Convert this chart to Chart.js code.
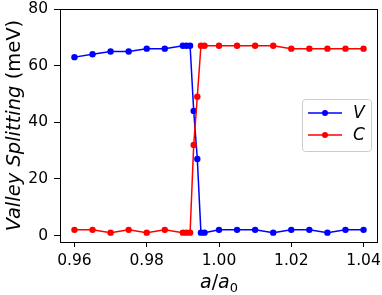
<!DOCTYPE html>
<html>
<head>
<meta charset="utf-8">
<script src="https://cdn.jsdelivr.net/npm/chart.js@4/dist/chart.umd.min.js"></script>
<style>
  body { margin: 0; background: #fff; }
  #wrap { width: 382px; height: 295px; }
</style>
</head>
<body>
<div id="wrap"><canvas id="myChart" width="382" height="295"></canvas></div>
<script>
const ratios = [0.96, 0.965, 0.97, 0.975, 0.98, 0.985, 0.99, 0.991, 0.992, 0.993, 0.994,
                0.995, 0.996, 1.0, 1.005, 1.01, 1.015, 1.02, 1.025, 1.03, 1.035, 1.04];
const splitV = [63, 64, 65, 65, 66, 66, 67, 67, 67, 44, 27, 1, 1, 2, 2, 2, 1, 2, 2, 1, 2, 2];
const splitC = [2, 2, 1, 2, 1, 2, 1, 1, 1, 32, 49, 67, 67, 67, 67, 67, 67, 66, 66, 66, 66, 66];
const xTicks = [0.96, 0.98, 1.00, 1.02, 1.04];
const yTicks = [0, 20, 40, 60, 80];

const FONT = "'DejaVu Sans', sans-serif";

function toPoints(ys) {
    return ratios.map((x, i) => ({ x: x, y: ys[i] }));
}

// frame, axis labels with mixed styles, legend box
const decorations = {
    id: 'decorations',
    afterDraw(chart) {
        const c = chart.ctx;
        const a = chart.chartArea;
        c.save();
        c.strokeStyle = '#000';
        c.lineWidth = 1;
        c.strokeRect(a.left + 0.5, a.top + 0.5, a.right - a.left - 1, a.bottom - a.top);

        // x label: a/a0
        c.fillStyle = '#000';
        c.textBaseline = 'alphabetic';
        c.textAlign = 'left';
        const it = "italic 19px " + FONT;
        const rm = "19px " + FONT;
        const sub = "13px " + FONT;
        const parts = [[it, 'a', 0], [rm, '/', 0], [it, 'a', 0], [sub, '0', 4]];
        let w = 0;
        parts.forEach(p => { c.font = p[0]; w += c.measureText(p[1]).width; });
        let x = (a.left + a.right) / 2 - w / 2;
        const by = 288;
        parts.forEach(p => {
            c.font = p[0];
            c.fillText(p[1], x, by + p[2]);
            x += c.measureText(p[1]).width;
        });

        // y label
        c.save();
        c.translate(19.5, (a.top + a.bottom) / 2);
        c.rotate(-Math.PI / 2);
        const yparts = [["italic 19.5px " + FONT, 'Valley Splitting'], ["19.5px " + FONT, ' (meV)']];
        let yw = 0;
        yparts.forEach(p => { c.font = p[0]; yw += c.measureText(p[1]).width; });
        let yx = -yw / 2;
        yparts.forEach(p => {
            c.font = p[0];
            c.fillText(p[1], yx, 0);
            yx += c.measureText(p[1]).width;
        });
        c.restore();

        // legend
        const lx = 302, ly = 99, lw = 69, lh = 52;
        c.beginPath();
        c.roundRect(lx + 0.5, ly + 0.5, lw, lh, 3);
        c.fillStyle = 'rgba(255,255,255,0.8)';
        c.fill();
        c.strokeStyle = '#cccccc';
        c.lineWidth = 1;
        c.stroke();
        const entries = [['V', '#0000ff', 113], ['C', '#ff0000', 135]];
        entries.forEach(e => {
            c.strokeStyle = e[1];
            c.fillStyle = e[1];
            c.lineWidth = 1.5;
            c.beginPath();
            c.moveTo(308, e[2]);
            c.lineTo(342, e[2]);
            c.stroke();
            c.beginPath();
            c.arc(325, e[2], 3, 0, Math.PI * 2);
            c.fill();
            c.fillStyle = '#000';
            c.font = "italic 17px " + FONT;
            c.textBaseline = 'middle';
            c.fillText(e[0], 353, e[2] + 1);
        });
        c.restore();
    }
};

const ctx = document.getElementById('myChart').getContext('2d');
const myChart = new Chart(ctx, {
    type: 'line',
    data: {
        datasets: [{
            label: 'V',
            data: toPoints(splitV),
            borderColor: '#0000ff',
            backgroundColor: '#0000ff',
            borderWidth: 1.5,
            pointRadius: 3.2,
            pointBorderWidth: 0,
            order: 1
        }, {
            label: 'C',
            data: toPoints(splitC),
            borderColor: '#ff0000',
            backgroundColor: '#ff0000',
            borderWidth: 1.5,
            pointRadius: 3.2,
            pointBorderWidth: 0,
            order: 0
        }]
    },
    options: {
        responsive: false,
        animation: false,
        layout: { padding: { left: 0, right: 4, top: 9, bottom: 0 } },
        plugins: { legend: { display: false }, tooltip: { enabled: false } },
        scales: {
            x: {
                type: 'linear',
                min: 0.956,
                max: 1.044,
                afterBuildTicks: s => { s.ticks = xTicks.map(v => ({ value: v })); },
                afterFit: s => { s.height = 53; s.paddingLeft = 0; s.paddingRight = 0; },
                grid: { drawOnChartArea: false, drawTicks: true, tickLength: 5, tickColor: '#000' },
                border: { display: false },
                ticks: {
                    color: '#000',
                    padding: 5,
                    maxRotation: 0,
                    font: { family: FONT, size: 15.5 },
                    callback: v => v.toFixed(2)
                }
            },
            y: {
                min: -2.3,
                max: 80,
                afterBuildTicks: s => { s.ticks = yTicks.map(v => ({ value: v })); },
                afterFit: s => { s.width = 60; s.paddingTop = 0; s.paddingBottom = 0; },
                grid: { drawOnChartArea: false, drawTicks: true, tickLength: 6, tickColor: '#000' },
                border: { display: false },
                ticks: {
                    color: '#000',
                    padding: 6,
                    font: { family: FONT, size: 15.5 },
                    callback: v => String(v)
                }
            }
        }
    },
    plugins: [decorations]
});
</script>
</body>
</html>
